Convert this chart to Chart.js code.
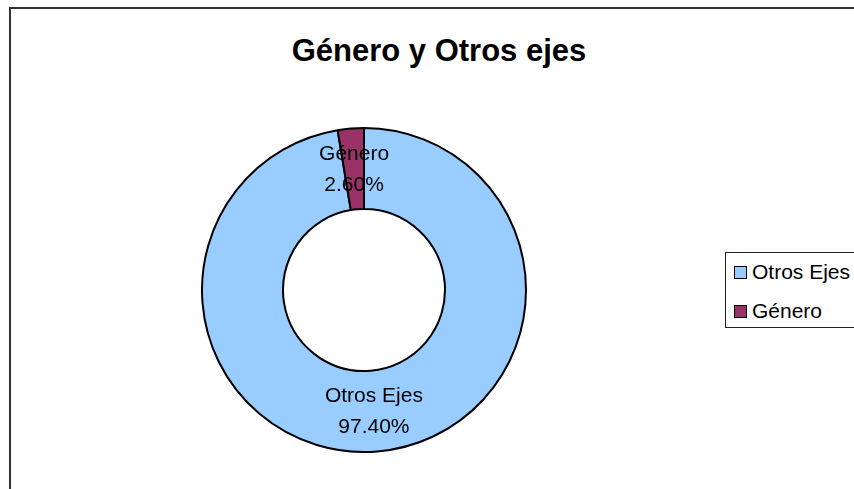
<!DOCTYPE html>
<html>
<head>
<meta charset="utf-8">
<script src="https://cdn.jsdelivr.net/npm/chart.js@4/dist/chart.umd.min.js"></script>
<style>
  html, body { margin: 0; padding: 0; background: #fff; overflow: hidden; }
  body { width: 854px; height: 489px; position: relative; font-family: "Liberation Sans", Arial, sans-serif; }
  #frame { position: absolute; left: 9px; top: 7px; width: 900px; height: 520px; border: 2px solid #333; box-sizing: border-box; }
  #title { position: absolute; left: 0; width: 878px; top: 33px; text-align: center; font-weight: bold; font-size: 31px; line-height: 36px; color: #000; }
  #wrap { position: absolute; left: 201px; top: 127px; width: 326px; height: 326px; }
  #legend { position: absolute; left: 725px; top: 252px; width: 160px; height: 76px; border: 1.5px solid #222; box-sizing: border-box; background: #fff; }
  .item { position: absolute; left: 8px; font-size: 21px; line-height: 22px; color: #000; white-space: nowrap; }
  .sw { display: inline-block; width: 11px; height: 11px; border: 1px solid #000; margin-right: 5px; vertical-align: 0px; }
</style>
</head>
<body>
<div id="frame"></div>
<div id="title"></div>
<div id="wrap"><canvas id="c" width="326" height="326"></canvas></div>
<div id="legend"></div>
<script>
const chartTitle = "Género y Otros ejes";
const categories = ["Otros Ejes", "Género"];
const values = [97.4, 2.6];
const percentLabels = ["97.40%", "2.60%"];
const colors = ["#99CCFF", "#993366"];

document.getElementById('title').textContent = chartTitle;

const legend = document.getElementById('legend');
categories.forEach((c, i) => {
  const d = document.createElement('div');
  d.className = 'item';
  d.style.top = (8 + i * 39) + 'px';
  const s = document.createElement('span');
  s.className = 'sw';
  s.style.background = colors[i];
  d.appendChild(s);
  d.appendChild(document.createTextNode(c));
  legend.appendChild(d);
});

const labelPlugin = {
  id: 'sliceLabels',
  afterDatasetsDraw(chart) {
    const ctx = chart.ctx;
    const meta = chart.getDatasetMeta(0);
    ctx.save();
    ctx.font = '21px "Liberation Sans", Arial, sans-serif';
    ctx.fillStyle = '#000';
    ctx.textAlign = 'center';
    ctx.textBaseline = 'middle';
    meta.data.forEach((arc, i) => {
      const p = arc.tooltipPosition();
      ctx.fillText(categories[i], p.x, p.y - 15);
      ctx.fillText(percentLabels[i], p.x, p.y + 16);
    });
    ctx.restore();
  }
};

new Chart(document.getElementById('c'), {
  type: 'doughnut',
  data: {
    labels: categories,
    datasets: [{
      data: values,
      backgroundColor: colors,
      borderColor: '#000',
      borderWidth: 2,
      hoverOffset: 0
    }]
  },
  options: {
    responsive: false,
    animation: false,
    cutout: '50%',
    rotation: 0,
    layout: { padding: 0 },
    plugins: {
      legend: { display: false },
      title: { display: false },
      tooltip: { enabled: false }
    }
  },
  plugins: [labelPlugin]
});
</script>
</body>
</html>
